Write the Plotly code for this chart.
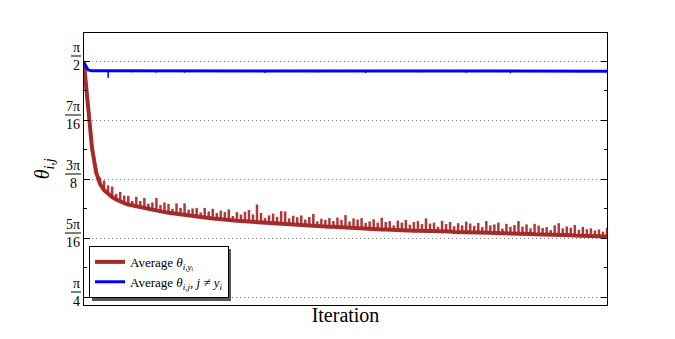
import plotly.graph_objects as go

# one sample every 500 iterations
iterations = list(range(0, 65001, 500))

# average angle to the own class (baseline of the red curve)
red_base = [
    1.561, 1.424, 1.281, 1.201, 1.161, 1.141, 1.128, 1.118, 1.110, 1.103,
    1.098, 1.093, 1.090, 1.087, 1.083, 1.080, 1.077, 1.075, 1.073, 1.070,
    1.068, 1.066, 1.064, 1.062, 1.060, 1.058, 1.057, 1.055, 1.053, 1.052,
    1.050, 1.048, 1.047, 1.046, 1.044, 1.043, 1.042, 1.040, 1.039, 1.038,
    1.037, 1.036, 1.035, 1.034, 1.033, 1.033, 1.032, 1.031, 1.030, 1.029,
    1.028, 1.028, 1.027, 1.026, 1.025, 1.024, 1.023, 1.023, 1.022, 1.021,
    1.020, 1.019, 1.019, 1.018, 1.017, 1.016, 1.015, 1.015, 1.014, 1.013,
    1.013, 1.012, 1.012, 1.011, 1.010, 1.010, 1.009, 1.009, 1.008, 1.008,
    1.007, 1.007, 1.006, 1.006, 1.006, 1.005, 1.005, 1.004, 1.004, 1.004,
    1.003, 1.003, 1.002, 1.002, 1.002, 1.001, 1.001, 1.000, 1.000, 0.999,
    0.999, 0.999, 0.998, 0.998, 0.998, 0.997, 0.997, 0.996, 0.996, 0.995,
    0.995, 0.995, 0.994, 0.994, 0.993, 0.993, 0.993, 0.992, 0.992, 0.992,
    0.991, 0.991, 0.990, 0.990, 0.990, 0.989, 0.989, 0.988, 0.988, 0.988,
    0.987,
]
# height of the periodic spikes above the baseline
red_spike = [
    0.0, 0.0, 0.0, 0.015, 0.022, 0.032, 0.029, 0.035, 0.019, 0.032,
    0.025, 0.029, 0.015, 0.032, 0.022, 0.035, 0.019, 0.025, 0.042, 0.022,
    0.032, 0.029, 0.015, 0.035, 0.022, 0.039, 0.019, 0.025, 0.029, 0.015,
    0.032, 0.022, 0.032, 0.019, 0.029, 0.025, 0.035, 0.015, 0.029, 0.022,
    0.032, 0.039, 0.025, 0.059, 0.032, 0.015, 0.025, 0.032, 0.022, 0.042,
    0.042, 0.019, 0.029, 0.025, 0.032, 0.019, 0.029, 0.039, 0.015, 0.025,
    0.022, 0.029, 0.019, 0.032, 0.025, 0.042, 0.022, 0.032, 0.029, 0.035,
    0.019, 0.025, 0.032, 0.022, 0.039, 0.025, 0.029, 0.015, 0.032, 0.025,
    0.035, 0.019, 0.029, 0.032, 0.022, 0.042, 0.025, 0.029, 0.015, 0.035,
    0.025, 0.032, 0.019, 0.029, 0.022, 0.035, 0.029, 0.022, 0.032, 0.019,
    0.039, 0.025, 0.029, 0.035, 0.015, 0.032, 0.022, 0.029, 0.042, 0.025,
    0.032, 0.019, 0.035, 0.029, 0.022, 0.025, 0.015, 0.032, 0.039, 0.022,
    0.029, 0.025, 0.035, 0.019, 0.029, 0.022, 0.025, 0.019, 0.022, 0.015,
    0.029,
]

# average angle to the other classes
blue_base = [
    1.566, 1.541, 1.538, 1.538, 1.537, 1.537, 1.537, 1.537, 1.537, 1.536,
    1.537, 1.537, 1.537, 1.537, 1.536, 1.537, 1.537, 1.537, 1.537, 1.536,
    1.537, 1.537, 1.537, 1.537, 1.537, 1.536, 1.537, 1.537, 1.537, 1.537,
    1.536, 1.537, 1.537, 1.537, 1.537, 1.538, 1.537, 1.537, 1.537, 1.536,
    1.537, 1.537, 1.537, 1.537, 1.537, 1.536, 1.537, 1.537, 1.537, 1.537,
    1.537, 1.537, 1.536, 1.537, 1.537, 1.537, 1.537, 1.537, 1.537, 1.536,
    1.537, 1.537, 1.537, 1.537, 1.538, 1.537, 1.537, 1.537, 1.536, 1.537,
    1.537, 1.537, 1.537, 1.537, 1.537, 1.536, 1.537, 1.537, 1.537, 1.537,
    1.537, 1.537, 1.537, 1.536, 1.537, 1.537, 1.537, 1.537, 1.537, 1.537,
    1.536, 1.537, 1.537, 1.537, 1.537, 1.537, 1.537, 1.537, 1.536, 1.537,
    1.537, 1.537, 1.537, 1.537, 1.537, 1.537, 1.536, 1.537, 1.537, 1.537,
    1.537, 1.537, 1.537, 1.537, 1.537, 1.536, 1.537, 1.537, 1.537, 1.537,
    1.537, 1.537, 1.537, 1.536, 1.537, 1.537, 1.537, 1.537, 1.537, 1.537,
    1.537,
]
# occasional downward blips of the blue curve (sample index, depth)
blue_dip_at = [6, 12, 18, 25, 33, 45, 58, 70, 84, 95, 106, 118]
blue_dip = [0.022, 0.004, 0.005, 0.004, 0.003, 0.005, 0.004, 0.006, 0.004, 0.005, 0.006, 0.003]

tick_vals = [0.785398, 0.981748, 1.178097, 1.374447, 1.570796]
tick_num = ["π", "5π", "3π", "7π", "π"]
tick_den = ["4", "16", "8", "16", "2"]
minor_vals = [0.883573, 1.079922, 1.276272, 1.472622]

RED = "#A52A2A"
BLUE = "#0000FF"
SERIF = "Liberation Serif, DejaVu Serif, serif"

# vertical strokes for the spikes
sx, sy = [], []
for it, b, s in zip(iterations, red_base, red_spike):
    if s > 0:
        sx += [it, it, None]
        sy += [b, b + s, None]

dx, dy = [], []
for k, d in zip(blue_dip_at, blue_dip):
    dx += [iterations[k], iterations[k], None]
    dy += [blue_base[k], blue_base[k] - d, None]

fig = go.Figure()
fig.add_trace(go.Scatter(x=sx, y=sy, mode="lines", line=dict(color="#B03838", width=2.5),
                         showlegend=False, hoverinfo="skip"))
fig.add_trace(go.Scatter(x=iterations, y=red_base, mode="lines", line=dict(color=RED, width=4),
                         name="Average <i>θ</i><sub><i>i,y</i>ᵢ</sub>"))
fig.add_trace(go.Scatter(x=dx, y=dy, mode="lines", line=dict(color=BLUE, width=1.5),
                         showlegend=False, hoverinfo="skip"))
fig.add_trace(go.Scatter(x=iterations, y=blue_base, mode="lines", line=dict(color=BLUE, width=3),
                         name="Average <i>θ</i><sub><i>i,j</i></sub>, <i>j</i> ≠ <i>y</i><sub><i>i</i></sub>"))

# stacked-fraction tick labels
shapes = []
annotations = []
for v, num, den in zip(tick_vals, tick_num, tick_den):
    w = 16 if len(den) > 1 or len(num) > 1 else 10
    shapes.append(dict(type="line", xref="paper", yref="y", xsizemode="pixel", ysizemode="pixel",
                       xanchor=0, yanchor=v, x0=-3 - w, x1=-3, y0=5, y1=5,
                       line=dict(color="black", width=1)))
    annotations.append(dict(xref="paper", yref="y", x=0, y=v, xshift=-3 - w / 2, yshift=14,
                            text=num, showarrow=False, xanchor="center", yanchor="middle",
                            font=dict(family=SERIF, size=14, color="black")))
    annotations.append(dict(xref="paper", yref="y", x=0, y=v, xshift=-3 - w / 2, yshift=-4,
                            text=den, showarrow=False, xanchor="center", yanchor="middle",
                            font=dict(family=SERIF, size=14, color="black")))

# legend shadow
shapes.append(dict(type="rect", xref="paper", yref="paper", x0=0.0153, x1=0.281, y0=0.0147, y1=0.206,
                   fillcolor="#555555", line=dict(width=0), layer="above"))

annotations.append(dict(xref="paper", yref="paper", x=-0.05, y=0.5, xanchor="right",
                        text="<i>θ</i><sub><i>i,j</i></sub>", textangle=-90, showarrow=False,
                        font=dict(family=SERIF, size=20, color="black")))

# the page body adds 8px, so the figure is drawn 8px smaller than the window
fig.update_layout(
    width=667, height=331,
    margin=dict(l=76, r=68, t=25, b=34),
    paper_bgcolor="white", plot_bgcolor="white",
    font=dict(family=SERIF, color="black"),
    shapes=shapes, annotations=annotations,
    legend=dict(x=0.0096, y=0.026, xanchor="left", yanchor="bottom",
                bgcolor="white", bordercolor="black", borderwidth=1,
                font=dict(family=SERIF, size=13), tracegroupgap=0, itemwidth=30),
)
fig.update_xaxes(range=[iterations[0], iterations[-1]], showticklabels=False, ticks="",
                 showgrid=False, zeroline=False, showline=True, linecolor="black",
                 linewidth=1, mirror=True,
                 title=dict(text="Iteration", font=dict(family=SERIF, size=20), standoff=2))
fig.update_yaxes(range=[0.7588, 1.664], tickvals=tick_vals, ticktext=[""] * 5,
                 ticks="inside", ticklen=6, tickcolor="black", showline=True, linecolor="black",
                 linewidth=1, mirror="ticks", zeroline=False,
                 showgrid=True, gridcolor="#777777", griddash="1px,3px", gridwidth=1,
                 minor=dict(tickvals=minor_vals, ticks="inside", ticklen=3, tickcolor="black",
                            showgrid=False))

fig.write_html("out.html")
